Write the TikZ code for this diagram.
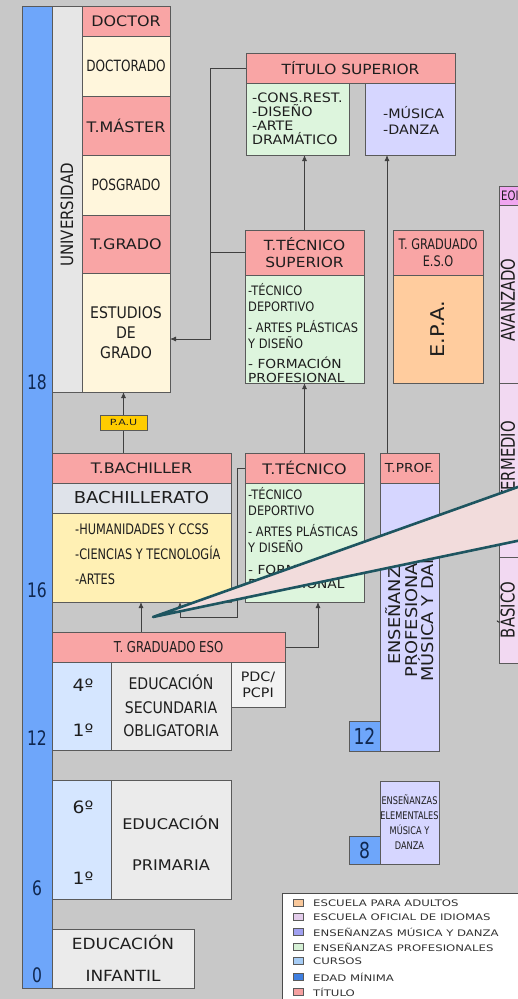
\documentclass[tikz,border=0pt]{standalone}
\usepackage{fontspec}
\setmainfont{DejaVu Sans}
\newfontfamily\fWide[FakeStretch=1.1]{DejaVu Sans}
\newfontfamily\fCond[FakeStretch=0.78]{DejaVu Sans}
\newfontfamily\fSemi[FakeStretch=0.88]{DejaVu Sans}
\newfontfamily\fLeg[FakeStretch=1.3]{DejaVu Sans}
\usetikzlibrary{arrows.meta}
\pgfdeclarelayer{backg}
\pgfdeclarelayer{lines}
\pgfsetlayers{backg,lines,main}
\definecolor{bgc}{HTML}{C8C8C8}
\definecolor{agec}{HTML}{6EA6FA}
\definecolor{tit}{HTML}{F9A5A5}
\definecolor{cream}{HTML}{FFF6DC}
\definecolor{yel}{HTML}{FFF0B4}
\definecolor{bachg}{HTML}{DFE3EA}
\definecolor{grn}{HTML}{DDF5DD}
\definecolor{pur}{HTML}{D6D6FF}
\definecolor{orng}{HTML}{FFCC9E}
\definecolor{eoib}{HTML}{F2D9F2}
\definecolor{eoih}{HTML}{F0A6F0}
\definecolor{curs}{HTML}{D5E6FF}
\definecolor{lgray}{HTML}{EBEBEB}
\definecolor{lgrayb}{HTML}{F2F2F2}
\definecolor{ucol}{HTML}{E6E6E6}
\definecolor{pauc}{HTML}{FFCC00}
\definecolor{edge}{HTML}{5A5A5A}
\definecolor{lnc}{HTML}{404040}
\definecolor{tealc}{HTML}{1E5560}
\definecolor{wedgec}{HTML}{F2DCDC}
\definecolor{numc}{HTML}{102850}
\definecolor{txt}{HTML}{1E1E1E}
\definecolor{legtxt}{HTML}{333333}
\definecolor{lg1}{HTML}{F9C89B}
\definecolor{lg2}{HTML}{E3CCEB}
\definecolor{lg3}{HTML}{A0A0F0}
\definecolor{lg4}{HTML}{D5F0D5}
\definecolor{lg5}{HTML}{A6CCF5}
\definecolor{lg6}{HTML}{3F7FE0}
\definecolor{lg7}{HTML}{F5A0A0}
\begin{document}
\begin{tikzpicture}[x=1pt,y=-1pt,
  box/.style={draw=edge, line width=0.7pt, anchor=north west, inner sep=0pt, outer sep=0pt, text=txt},
  sz/.style 2 args={minimum width=#1, minimum height=#2},
  tx/.style={inner sep=0pt, text=txt},
  conn/.style={draw=lnc, line width=0.8pt},
  arr/.style={conn, -{Latex[length=6pt,width=5pt]}},
  lsq/.style={draw=edge, line width=0.5pt, minimum width=10, minimum height=7, inner sep=0pt},
  ltx/.style={anchor=west, inner sep=0pt, text=legtxt, font=\fLeg\fontsize{9}{11}\selectfont},
  fw/.style={font=\fWide\fontsize{#1}{#1}\selectfont},
  fc/.style={font=\fCond\fontsize{#1}{#1}\selectfont},
]
\useasboundingbox (0,0) rectangle (518,999);
\begin{pgfonlayer}{backg}
\fill[bgc] (0,0) rectangle (518,999);
\end{pgfonlayer}
\clip (0,0) rectangle (518,999);

% age bar
\node[box, fill=agec, sz={30}{982}] (agebar) at (22,6) {};
\foreach \n/\yy in {18/382,16/590,12/738,6/888,0/975}
  \node[tx, text=numc, fc=20] (age\n) at (37,\yy) {\n};

% university
\node[box, fill=ucol, sz={30}{386}] (univ) at (52,6) {};
\node[tx, rotate=90, font=\fSemi\fontsize{17}{17}\selectfont] (univt) at (67,215) {UNIVERSIDAD};
\node[box, fill=tit, sz={88}{30}, fw=14.5] (doctor) at (82,6) {DOCTOR};
\node[box, fill=cream, sz={88}{60}, fc=15.5] (doctorado) at (82,36) {DOCTORADO};
\node[box, fill=tit, sz={88}{59}, fw=14.5] (master) at (82,96) {T.MÁSTER};
\node[box, fill=cream, sz={88}{60}, fc=15.5] (posgrado) at (82,155) {POSGRADO};
\node[box, fill=tit, sz={88}{58}, fw=14.5] (tgrado) at (82,215) {T.GRADO};
\node[box, fill=cream, sz={88}{119}, font=\fSemi\fontsize{16}{20}\selectfont, align=center] (estudios) at (82,273) {ESTUDIOS\\DE\\GRADO};

% bachillerato
\node[box, fill=tit, sz={179}{30}, fw=14.5] (tbach) at (52,453) {T.BACHILLER};
\node[box, fill=bachg, sz={179}{30}, fw=16.4] (bachrow) at (52,483) {BACHILLERATO};
\node[box, fill=yel, sz={179}{89}] (bachbody) at (52,513) {};
\node[tx, anchor=north west, align=left, font=\fCond\fontsize{14.5}{25}\selectfont] (bachtxt) at (75,524) {-HUMANIDADES Y CCSS\\-CIENCIAS Y TECNOLOGÍA\\-ARTES};
\node[box, fill=pauc, sz={47}{15}, font=\fLeg\fontsize{8.5}{9}\selectfont] (pau) at (100,415) {P.A.U};

% tecnico
\node[box, fill=tit, sz={119}{30}, fw=14.5] (ttec) at (245,453) {T.TÉCNICO};
\node[box, fill=grn, sz={119}{119}] (ttecbody) at (245,483) {};
\node[tx, anchor=north west, align=left, font=\fSemi\fontsize{13}{16}\selectfont] (ttecA) at (248,487) {-TÉCNICO\\DEPORTIVO\\[5pt]- ARTES PLÁSTICAS\\Y DISEÑO};
\node[tx, anchor=north west, align=left, font=\fWide\fontsize{12.5}{14}\selectfont] (ttecB) at (248,563) {- FORMACIÓN\\PROFESIONAL};

% tecnico superior
\node[box, fill=tit, sz={119}{45}, font=\fWide\fontsize{14}{17}\selectfont, align=center] (tts) at (245,230) {T.TÉCNICO\\SUPERIOR};
\node[box, fill=grn, sz={119}{108}] (ttsbody) at (245,275) {};
\node[tx, anchor=north west, align=left, font=\fSemi\fontsize{13}{16}\selectfont] (ttsA) at (248,283) {-TÉCNICO\\DEPORTIVO\\[5pt]- ARTES PLÁSTICAS\\Y DISEÑO};
\node[tx, anchor=north west, align=left, font=\fWide\fontsize{12.5}{14}\selectfont] (ttsB) at (248,357) {- FORMACIÓN\\PROFESIONAL};

% titulo superior
\node[box, fill=tit, sz={209}{30}, fw=14] (titsup) at (246,53) {TÍTULO SUPERIOR};
\node[box, fill=grn, sz={103}{72}] (titgrn) at (246,83) {};
\node[tx, anchor=north west, align=left, font=\fWide\fontsize{13}{14}\selectfont] (titgrnt) at (252,93) {-CONS.REST.\\-DISEÑO\\-ARTE\\DRAMÁTICO};
\node[box, fill=pur, sz={90}{72}] (titpur) at (365,83) {};
\node[tx, anchor=west, align=left, font=\fWide\fontsize{13}{16}\selectfont] (titpurt) at (383,120) {-MÚSICA\\-DANZA};

% EPA
\node[box, fill=tit, sz={90}{45}, font=\fCond\fontsize{14.5}{17}\selectfont, align=center] (tgeso2) at (393,230) {T. GRADUADO\\E.S.O};
\node[box, fill=orng, sz={90}{108}] (epa) at (393,275) {};
\node[tx, rotate=90, fw=19] (epat) at (epa.center) {E.P.A.};

% musica y danza
\node[box, fill=tit, sz={59}{30}, fw=12.4] (tprof) at (380,453) {T.PROF.};
\node[box, fill=pur, sz={59}{268}] (profbody) at (380,483) {};
\node[tx, rotate=90, align=center, font=\fWide\fontsize{16.2}{16.5}\selectfont] (proft) at (410,604) {ENSEÑANZAS\\PROFESIONALES\\MÚSICA Y DANZA};
\node[box, fill=agec, sz={31}{30}, fc=22, text=numc] (b12) at (349,721) {12};
\node[box, fill=pur, sz={59}{83}, font=\fCond\fontsize{10.5}{15}\selectfont, align=center] (elem) at (380,781) {ENSEÑANZAS\\ELEMENTALES\\MÚSICA Y\\DANZA};
\node[box, fill=agec, sz={31}{28}, fc=22, text=numc] (b8) at (349,836) {8};

% EOI
\node[box, fill=eoih, sz={40}{19}] (eoih) at (499,186) {};
\node[tx, anchor=west, fc=13] (eoit) at (501,196) {EOI};
\node[box, fill=eoib, sz={40}{178}] (avz) at (499,205) {};
\node[box, fill=eoib, sz={40}{174}] (intm) at (499,383) {};
\node[box, fill=eoib, sz={40}{106}] (basico) at (499,557) {};
\node[tx, rotate=90, fc=19] (avzt) at (508,300) {AVANZADO};
\node[tx, rotate=90, fc=19] (intmt) at (508,468) {INTERMEDIO};
\node[tx, rotate=90, fc=19] (basicot) at (506,610) {BÁSICO};

% ESO
\node[box, fill=tit, sz={233}{30}, fc=15] (tgeso) at (52,632) {T. GRADUADO ESO};
\node[box, fill=curs, sz={59}{88}] (esocur) at (52,662) {};
\node[tx, fw=17] (eso4) at (83,685) {4º};
\node[tx, fw=17] (eso1) at (83,730) {1º};
\node[box, fill=lgray, sz={120}{88}, font=\fSemi\fontsize{16}{23.5}\selectfont, align=center] (eso) at (111,662) {EDUCACIÓN\\SECUNDARIA\\OBLIGATORIA};
\node[box, fill=lgrayb, sz={54}{45}, font=\fWide\fontsize{13}{16}\selectfont, align=center] (pdc) at (231,662) {PDC/\\PCPI};

% primaria
\node[box, fill=curs, sz={59}{119}] (pricur) at (52,780) {};
\node[tx, fw=17] (pri6) at (83,807) {6º};
\node[tx, fw=17] (pri1) at (83,878) {1º};
\node[box, fill=lgray, sz={120}{119}] (pri) at (111,780) {};
\node[tx, align=center, font=\fWide\fontsize{14.7}{41}\selectfont] (prit) at (171,843) {EDUCACIÓN\\PRIMARIA};

% infantil
\node[box, fill=lgray, sz={142}{59}, font=\fWide\fontsize{15.4}{32}\selectfont, align=center] (inf) at (52,929) {EDUCACIÓN\\INFANTIL};

% connectors
\coordinate (c1) at ([xshift=89pt]tgeso.north west);
\coordinate (c3) at ([xshift=128pt]bachbody.south west);
\coordinate (c4) at ([xshift=73pt]ttecbody.south west);
\coordinate (c7) at ([xshift=7pt]tprof.north west);
\coordinate (c8) at ([xshift=-36pt]titsup.west);
\begin{pgfonlayer}{lines}
\draw[arr] (pau.center |- tbach.north) -- (pau.center |- estudios.south);
\draw[arr] (c1) -- (c1 |- bachbody.south);
\draw[arr] (ttec.west) -- ++(-8,0) |- ([yshift=-15pt]c3) -- (c3);
\draw[arr] (tgeso.east) -| (c4);
\draw[arr] (ttec.north) -- (ttsbody.south);
\draw[arr] (tts.north) -- (tts.north |- titgrn.south);
\draw[arr] (c7) -- (c7 |- titpur.south);
\draw[arr] (titsup.west) -- (c8) |- ([yshift=-6.5pt]estudios.east);
\draw[conn] (tts.west) -- (tts.west -| c8);
\end{pgfonlayer}

% legend
\node[box, fill=white, sz={250}{120}, draw=black!70] (legend) at (282,893) {};
\foreach \i/\c/\yy/\t in {1/lg1/903/ESCUELA PARA ADULTOS,2/lg2/917/ESCUELA OFICIAL DE IDIOMAS,3/lg3/932/ENSEÑANZAS MÚSICA Y DANZA,4/lg4/947/ENSEÑANZAS PROFESIONALES,5/lg5/961/CURSOS,6/lg6/977/EDAD MÍNIMA,7/lg7/992/TÍTULO}{
  \node[lsq, fill=\c] (sq\i) at (298,\yy) {};
  \node[ltx] (lt\i) at (313,\yy) {\t};
}

% callout wedge
\coordinate (tip) at (153,617);
\coordinate (wa) at (560,472);
\coordinate (wb) at (560,532);
\fill[wedgec] (tip) -- (wa) -- (wb) -- cycle;
\draw[tealc, line width=2.6pt, line join=round] (wa) -- (tip) -- (wb);
\end{tikzpicture}
\end{document}
